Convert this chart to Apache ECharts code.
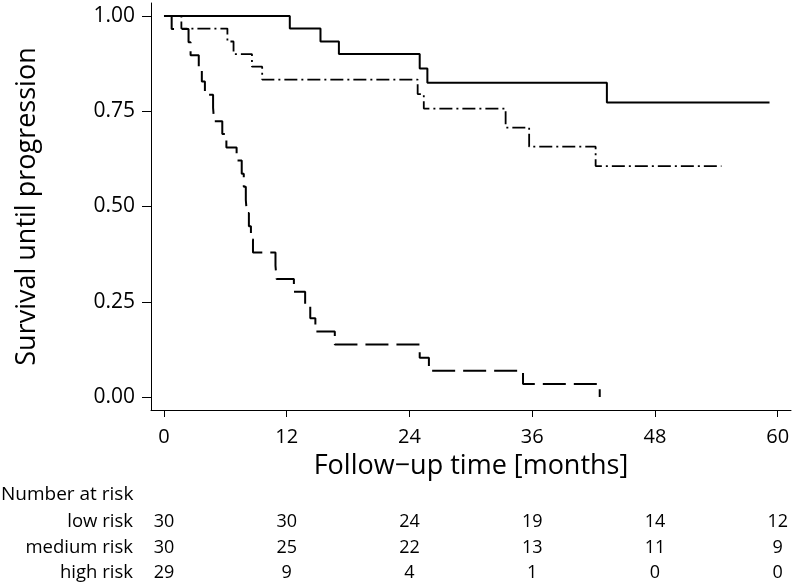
<!DOCTYPE html>
<html>
<head>
<meta charset="utf-8">
<script src="https://cdn.jsdelivr.net/npm/echarts@6/dist/echarts.min.js"></script>
<style>
html,body{margin:0;padding:0;background:#fff;}
#c{width:794px;height:583px;}
</style>
</head>
<body>
<div id="c"></div>
<script>
// Kaplan-Meier step data (time in months, survival)
const lowTime  = [0, 12.3, 15.3, 17.1, 25.0, 25.75, 43.3, 59.2];
const lowSurv  = [1, 0.967, 0.933, 0.900, 0.862, 0.825, 0.773, 0.773];

const medTime  = [0, 1.7, 6.2, 6.8, 8.6, 9.6, 24.8, 25.4, 33.4, 35.7, 42.2, 54.5];
const medSurv  = [1, 0.967, 0.933, 0.900, 0.867, 0.833, 0.795, 0.757, 0.707, 0.657, 0.606, 0.606];

const highTime = [0, 0.75, 2.4, 2.6, 3.4, 3.7, 4.0, 4.8, 4.9, 5.7, 6.1, 7.1, 7.6, 7.8, 8.0, 8.1, 8.3, 8.5, 8.7, 10.9, 11.0, 12.7, 13.8, 14.3, 14.8, 16.7, 25.0, 25.9, 35.1, 42.6];
const highSurv = [1, 0.966, 0.931, 0.897, 0.862, 0.828, 0.793, 0.759, 0.724, 0.690, 0.655, 0.621, 0.586, 0.552, 0.517, 0.483, 0.448, 0.414, 0.379, 0.345, 0.310, 0.276, 0.241, 0.207, 0.172, 0.138, 0.103, 0.069, 0.034, 0.0];

// Axis ticks
const xTicks = [0, 12, 24, 36, 48, 60];
const yTicks = [0, 0.25, 0.5, 0.75, 1];

// Number at risk table
const riskGroups = ['low risk', 'medium risk', 'high risk'];
const atRiskLow    = [30, 30, 24, 19, 14, 12];
const atRiskMedium = [30, 25, 22, 13, 11, 9];
const atRiskHigh   = [29, 9, 4, 1, 0, 0];
const atRiskRows = [atRiskLow, atRiskMedium, atRiskHigh];

const FONT = 'Open Sans';
const pair = (t, s) => t.map((v, i) => [v, s[i]]);

const X_MIN = -1.27, X_MAX = 61.3;
const Y_MIN = -0.034, Y_MAX = 1.034;

const mainX = {
  type: 'value', min: X_MIN, max: X_MAX, position: 'bottom',
  axisLine: {show: true, onZero: false, lineStyle: {color: '#000', width: 1}},
  axisTick: {show: true, customValues: xTicks, length: 7, lineStyle: {color: '#000', width: 1}},
  axisLabel: {show: true, customValues: xTicks, color: '#000', fontFamily: FONT, fontSize: 20, margin: 17},
  splitLine: {show: false},
  name: 'Follow\u2212up time [months]', nameLocation: 'middle', nameGap: 43,
  nameTextStyle: {color: '#000', fontFamily: FONT, fontSize: 27}
};

const rowOffsets = [112, 138, 163];
const riskAxes = riskGroups.map((g, k) => ({
  type: 'value', min: X_MIN, max: X_MAX, position: 'bottom', offset: rowOffsets[k],
  axisLine: {show: false, onZero: false}, axisTick: {show: false}, splitLine: {show: false},
  axisLabel: {show: true, customValues: xTicks, margin: 0, verticalAlign: 'middle',
    color: '#000', fontFamily: FONT, fontSize: 18,
    formatter: v => String(atRiskRows[k][xTicks.indexOf(Math.round(v))])},
  name: g, nameLocation: 'start', nameGap: 18,
  nameTextStyle: {color: '#000', fontFamily: FONT, fontSize: 18.5, align: 'right', verticalAlign: 'middle'}
}));

const chart = echarts.init(document.getElementById('c'), null, {renderer: 'canvas'});
chart.setOption({
  backgroundColor: '#fff',
  animation: false,
  grid: {left: 151, right: 3, top: 3, bottom: 173, containLabel: false, outerBoundsMode: 'none'},
  xAxis: [mainX].concat(riskAxes),
  yAxis: {
    type: 'value', min: Y_MIN, max: Y_MAX,
    axisLine: {show: true, onZero: false, lineStyle: {color: '#000', width: 1}},
    axisTick: {show: true, customValues: yTicks, length: 9, lineStyle: {color: '#000', width: 1}},
    axisLabel: {show: true, customValues: yTicks, color: '#000', fontFamily: FONT, fontSize: 21, margin: 16,
      formatter: v => v.toFixed(2)},
    splitLine: {show: false},
    name: 'Survival until progression', nameLocation: 'middle', nameGap: 110,
    nameTextStyle: {color: '#000', fontFamily: FONT, fontSize: 27}
  },
  graphic: [{
    type: 'text', left: 1, top: 485,
    style: {text: 'Number at risk', fill: '#000', font: '19px "Open Sans"'}
  }],
  series: [
    {name: 'low risk', type: 'line', step: 'end', showSymbol: false, xAxisIndex: 0,
     data: pair(lowTime, lowSurv), lineStyle: {color: '#000', width: 2, type: 'solid'}},
    {name: 'medium risk', type: 'line', step: 'end', showSymbol: false, xAxisIndex: 0,
     data: pair(medTime, medSurv), lineStyle: {color: '#000', width: 1.8, type: [13, 4, 2, 4]}},
    {name: 'high risk', type: 'line', step: 'end', showSymbol: false, xAxisIndex: 0,
     data: pair(highTime, highSurv), lineStyle: {color: '#000', width: 2, type: [23, 8]}}
  ]
});
</script>
</body>
</html>
